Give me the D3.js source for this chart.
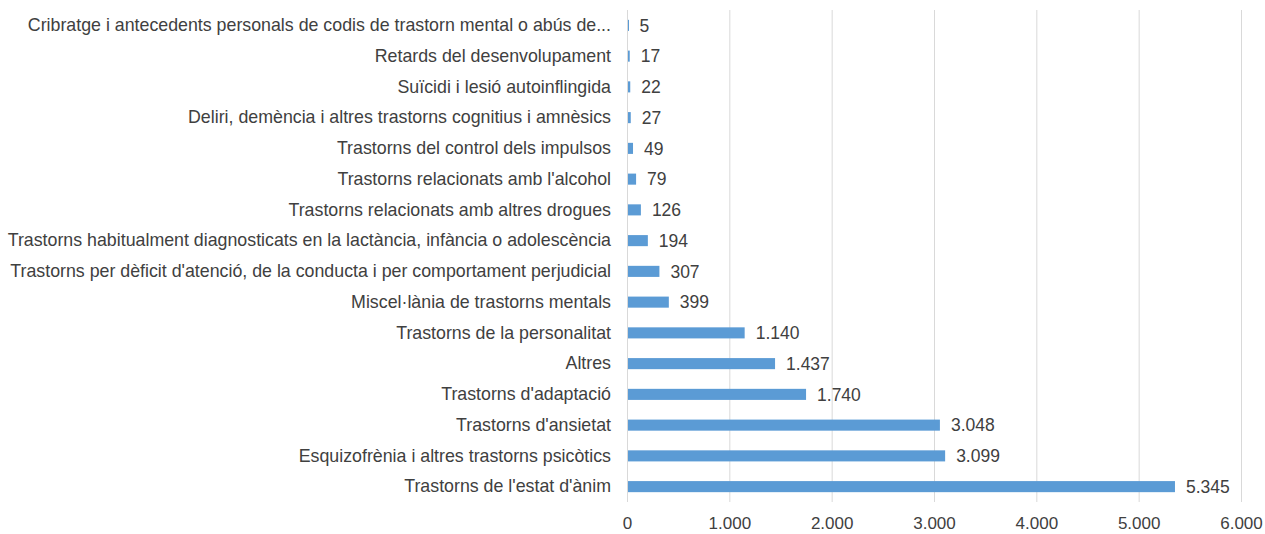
<!DOCTYPE html>
<html>
<head>
<meta charset="utf-8">
<script src="https://cdn.jsdelivr.net/npm/d3@7"></script>
<style>
  body { margin: 0; background: #fff; }
  text { font-family: "Liberation Sans", Arial, sans-serif; }
</style>
</head>
<body>
<div id="app"></div>
<script>
// categories, top to bottom
const categories = [
    "Cribratge i antecedents personals de codis de trastorn mental o abús de...",
    "Retards del desenvolupament",
    "Suïcidi i lesió autoinflingida",
    "Deliri, demència i altres trastorns cognitius i amnèsics",
    "Trastorns del control dels impulsos",
    "Trastorns relacionats amb l'alcohol",
    "Trastorns relacionats amb altres drogues",
    "Trastorns habitualment diagnosticats en la lactància, infància o adolescència",
    "Trastorns per dèficit d'atenció, de la conducta i per comportament perjudicial",
    "Miscel·lània de trastorns mentals",
    "Trastorns de la personalitat",
    "Altres",
    "Trastorns d'adaptació",
    "Trastorns d'ansietat",
    "Esquizofrènia i altres trastorns psicòtics",
    "Trastorns de l'estat d'ànim"
];
const values = [5, 17, 22, 27, 49, 79, 126, 194, 307, 399, 1140, 1437, 1740, 3048, 3099, 5345];
const xTicks = [0, 1000, 2000, 3000, 4000, 5000, 6000];

const width = 1265, height = 534;
const margin = { top: 10, right: 24, bottom: 32, left: 627 };

const locale = d3.formatLocale({ decimal: ",", thousands: ".", grouping: [3], currency: ["", "€"] });
const fmt = locale.format(",d");

const svg = d3.select("#app")
    .append("svg")
    .attr("width", width)
    .attr("height", height);

const x = d3.scaleLinear()
    .domain([0, 6000])
    .range([margin.left, margin.left + 614]);

const y = d3.scaleBand()
    .domain(categories)
    .range([margin.top, height - margin.bottom])
    .paddingInner(0.64)
    .paddingOuter(0.32);

// gridlines
svg.append("g")
    .selectAll("line")
    .data(xTicks)
    .join("line")
    .attr("x1", d => x(d) + 0.5)
    .attr("x2", d => x(d) + 0.5)
    .attr("y1", margin.top)
    .attr("y2", height - margin.bottom)
    .attr("stroke", "#d9d9d9")
    .attr("stroke-width", 1);

// x axis labels
svg.append("g")
    .attr("transform", `translate(0,${height - margin.bottom})`)
    .call(d3.axisBottom(x).tickValues(xTicks).tickFormat(fmt).tickSize(0).tickPadding(15))
    .call(g => g.select(".domain").remove())
    .selectAll("text")
    .attr("font-size", 17)
    .attr("fill", "#404040");

// category labels
svg.append("g")
    .attr("transform", `translate(${margin.left},0)`)
    .call(d3.axisLeft(y).tickSize(0).tickPadding(16))
    .call(g => g.select(".domain").remove())
    .selectAll("text")
    .attr("font-size", 17.8)
    .attr("fill", "#404040");

// bars
svg.append("g")
    .selectAll("rect")
    .data(values)
    .join("rect")
    .attr("x", x(0) + 1)
    .attr("y", (d, i) => y(categories[i]))
    .attr("width", d => Math.max(1, x(d) - x(0)))
    .attr("height", y.bandwidth())
    .attr("fill", "#5b9bd5");

// value labels
svg.append("g")
    .selectAll("text")
    .data(values)
    .join("text")
    .attr("x", d => x(d) + 12)
    .attr("y", (d, i) => y(categories[i]) + y.bandwidth() / 2)
    .attr("dy", "0.36em")
    .attr("font-size", 17.5)
    .attr("fill", "#404040")
    .text(d => fmt(d));
</script>
</body>
</html>
